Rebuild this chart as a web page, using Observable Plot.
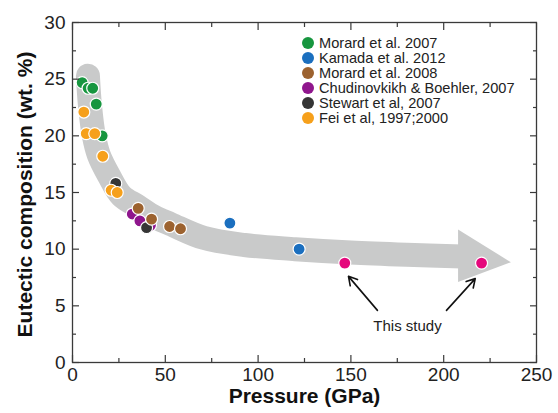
<!DOCTYPE html>
<html><head><meta charset="utf-8">
<script src="https://cdn.jsdelivr.net/npm/d3@7"></script>
<script src="https://cdn.jsdelivr.net/npm/@observablehq/plot@0.6"></script>
<style>
body{margin:0;background:#fff;}
#wrap{position:relative;width:558px;height:413px;}
#legend{position:absolute;left:302px;top:36px;font:14.6px "Liberation Sans",Arial,sans-serif;color:#222;line-height:14px;}
.row{display:flex;align-items:center;height:14.9px;white-space:nowrap;}
.sw{width:12px;height:12px;border-radius:50%;margin-right:5px;flex:none;}
svg text{font-family:"Liberation Sans",Arial,sans-serif;}
</style></head><body><div id="wrap"></div>
<script>
// Series (legend order)
const seriesNames = ["Morard et al. 2007","Kamada et al. 2012","Morard et al. 2008","Chudinovkikh & Boehler, 2007","Stewart et al, 2007","Fei et al, 1997;2000"];
const seriesColors = ["#17963f","#1b6fbf","#9c622f","#8f168d","#353535","#f6a01b"];
const studyName = "This study";
const studyColor = "#e5087c";

// Values: pressure (GPa), eutectic composition (wt.%)
const morard2007P = [5.2, 8.4, 10.9, 12.8, 16.0];
const morard2007Y = [24.7, 24.2, 24.2, 22.8, 20.0];
const kamada2012P = [84.8, 122.1];
const kamada2012Y = [12.3, 10.0];
const morard2008P = [35.4, 42.6, 52.3, 58.2];
const morard2008Y = [13.6, 12.65, 12.0, 11.8];
const chudP = [32.2, 36.3, 42.0];
const chudY = [13.1, 12.5, 12.1];
const stewartP = [23.3, 39.9];
const stewartY = [15.8, 11.9];
const feiP = [6.1, 7.4, 12.0, 16.3, 20.8, 24.1];
const feiY = [22.1, 20.2, 20.2, 18.2, 15.2, 15.0];
const studyP = [146.7, 220.4];
const studyY = [8.77, 8.77];

// Trend band (centerline) and arrow head
const bandP = [8.3, 9.4, 11.5, 14.2, 19.6, 26.4, 35, 44, 53, 70.6, 92.7, 120, 150, 180, 210];
const bandY = [25.3, 22.7, 20.0, 18.3, 16.5, 14.7, 13.8, 12.85, 12.2, 11.0, 10.37, 10.0, 9.7, 9.5, 9.35];
const headP = [208, 236.5];
const headLow = [7.06, 8.8];
const headHigh = [11.7, 8.8];

// Annotation arrows
const arrowX1 = [164.3, 201.5], arrowY1 = [4.6, 4.6];
const arrowX2 = [148.7, 217.0], arrowY2 = [7.6, 7.4];
const annotP = [180.5], annotY = [3.2];

// Ticks
const xMajor = [0, 50, 100, 150, 200, 250];
const xMinor = [25, 75, 125, 175, 225];
const yMajor = [0, 5, 10, 15, 20, 25, 30];
const yMinor = [2.5, 7.5, 12.5, 17.5, 22.5, 27.5];

const seriesData = [
  [morard2007P, morard2007Y], [kamada2012P, kamada2012Y], [morard2008P, morard2008Y],
  [chudP, chudY], [stewartP, stewartY], [feiP, feiY]
];
const drawOrder = [3, 4, 2, 0, 1, 5];
const points = [];
for (const i of drawOrder) {
  const [ps, ys] = seriesData[i];
  ps.forEach((p, k) => points.push({series: seriesNames[i], P: p, Y: ys[k]}));
}
studyP.forEach((p, k) => points.push({series: studyName, P: p, Y: studyY[k]}));

const band = bandP.map((p, i) => ({P: p, Y: bandY[i]}));
const head = headP.map((p, i) => ({P: p, y1: headLow[i], y2: headHigh[i]}));
const arrows = arrowX1.map((x, i) => ({x1: x, y1: arrowY1[i], x2: arrowX2[i], y2: arrowY2[i]}));

const frameColor = "#3a3a3a";
const chart = Plot.plot({
  width: 558, height: 413,
  marginLeft: 72, marginRight: 22, marginTop: 22, marginBottom: 51,
  style: {fontFamily: "Liberation Sans, Arial, sans-serif", background: "#fff"},
  x: {domain: [0, 250]},
  y: {domain: [0, 30]},
  color: {domain: [...seriesNames, studyName], range: [...seriesColors, studyColor]},
  marks: [
    Plot.line(band, {x: "P", y: "Y", stroke: "#c9caca", strokeWidth: 24, strokeLinecap: "round", curve: "catmull-rom"}),
    Plot.areaY(head, {x: "P", y1: "y1", y2: "y2", fill: "#c9caca"}),
    Plot.dot(points, {x: "P", y: "Y", fill: "series", r: 6, stroke: "white", strokeWidth: 1.2}),
    Plot.arrow(arrows, {x1: "x1", y1: "y1", x2: "x2", y2: "y2", stroke: "#111", strokeWidth: 1.6, headLength: 9}),
    Plot.text(annotP.map((p, i) => ({P: p, Y: annotY[i], t: studyName})), {x: "P", y: "Y", text: "t", fontSize: 15, fill: "#222"}),
    Plot.frame({stroke: frameColor, strokeWidth: 1.3}),
    // inward ticks
    Plot.axisX({ticks: xMajor, tickSize: -7, text: null, label: null, stroke: frameColor, strokeWidth: 1.2}),
    Plot.axisX({ticks: xMinor, tickSize: -4, text: null, label: null, stroke: frameColor, strokeWidth: 1.2}),
    Plot.axisX({anchor: "top", ticks: xMajor, tickSize: -7, text: null, label: null, stroke: frameColor, strokeWidth: 1.2}),
    Plot.axisX({anchor: "top", ticks: xMinor, tickSize: -4, text: null, label: null, stroke: frameColor, strokeWidth: 1.2}),
    Plot.axisY({ticks: yMajor, tickSize: -7, text: null, label: null, stroke: frameColor, strokeWidth: 1.2}),
    Plot.axisY({ticks: yMinor, tickSize: -4, text: null, label: null, stroke: frameColor, strokeWidth: 1.2}),
    Plot.axisY({anchor: "right", ticks: yMajor, tickSize: -7, text: null, label: null, stroke: frameColor, strokeWidth: 1.2}),
    Plot.axisY({anchor: "right", ticks: yMinor, tickSize: -4, text: null, label: null, stroke: frameColor, strokeWidth: 1.2}),
    // tick labels
    Plot.axisX({ticks: xMajor, tickSize: 0, tickPadding: 5, label: null, fontSize: 19, fill: "#222"}),
    Plot.axisY({ticks: yMajor, tickSize: 0, tickPadding: 7, label: null, fontSize: 19, fill: "#222"}),
    // axis titles
    Plot.text(["Eutectic composition (wt. %)"], {text: d => d, frameAnchor: "left", textAnchor: "middle", rotate: -90, dx: -47, dy: 2, fontSize: 21, fontWeight: "bold", fill: "#111"}),
    Plot.text(["Pressure (GPa)"], {text: d => d, frameAnchor: "bottom", textAnchor: "middle", dy: 40, fontSize: 21, fontWeight: "bold", fill: "#111"})
  ]
});

const wrap = document.getElementById("wrap");
wrap.appendChild(chart);
const legend = document.createElement("div");
legend.id = "legend";
seriesNames.forEach((name, i) => {
  const row = document.createElement("div");
  row.className = "row";
  const sw = document.createElement("span");
  sw.className = "sw";
  sw.style.background = seriesColors[i];
  const t = document.createElement("span");
  t.textContent = name;
  row.appendChild(sw); row.appendChild(t);
  legend.appendChild(row);
});
wrap.appendChild(legend);
</script>
</body></html>
